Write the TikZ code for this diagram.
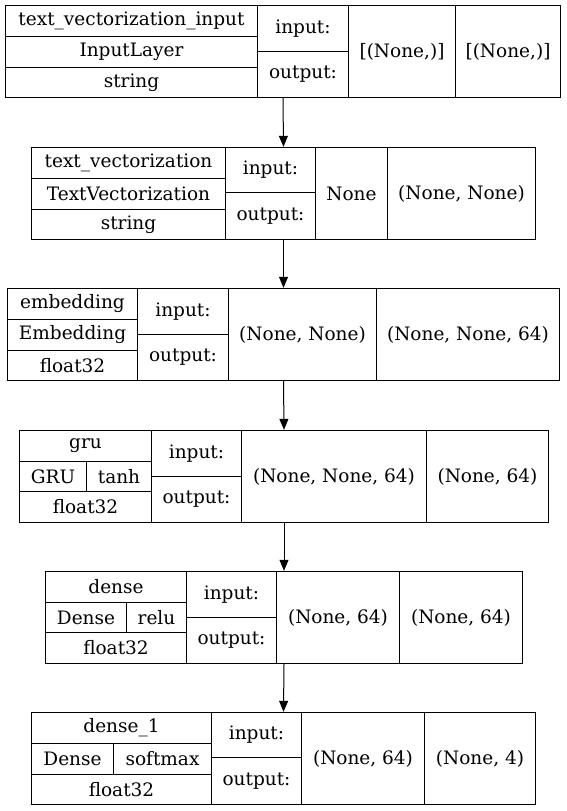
\documentclass[tikz,border=0pt]{standalone}
\usepackage{fontspec}
\setmainfont{DejaVu Serif}
\usetikzlibrary{arrows.meta}
\usetikzlibrary{fit}

\begin{document}
\begin{tikzpicture}[x=1pt,y=-1pt]
    \tikzstyle{rec}=[draw,line width=1pt,inner sep=0pt,anchor=north west,font=\fontsize{18.5}{21}\selectfont]
    \tikzstyle{blk}=[inner sep=0pt]
    \tikzstyle{e}=[-{Triangle[length=11pt,width=9pt]},line width=1pt]

    \useasboundingbox (0,0) rectangle (567,811);

    % text_vectorization_input
    \node[rec,minimum width=252pt,minimum height=31pt] (vi_name) at (5,5) {text\_vectorization\_input};
    \node[rec,minimum width=252pt,minimum height=31pt] (vi_class) at (5,36) {InputLayer};
    \node[rec,minimum width=252pt,minimum height=30pt] (vi_dtype) at (5,67) {string};
    \node[rec,minimum width=91pt,minimum height=46pt] (vi_in) at (257,5) {input:};
    \node[rec,minimum width=91pt,minimum height=46pt] (vi_out) at (257,51) {output:};
    \node[rec,minimum width=107pt,minimum height=92pt] (vi_inshape) at (348,5) {[(None,)]};
    \node[rec,minimum width=105pt,minimum height=92pt] (vi_outshape) at (455,5) {[(None,)]};
    \node[blk,fit=(vi_name)(vi_dtype)(vi_outshape)] (vecin) {};

    % text_vectorization
    \node[rec,minimum width=194pt,minimum height=31pt] (v_name) at (31,147) {text\_vectorization};
    \node[rec,minimum width=194pt,minimum height=31pt] (v_class) at (31,178) {TextVectorization};
    \node[rec,minimum width=194pt,minimum height=30pt] (v_dtype) at (31,209) {string};
    \node[rec,minimum width=90pt,minimum height=45pt] (v_in) at (225,147) {input:};
    \node[rec,minimum width=90pt,minimum height=47pt] (v_out) at (225,192) {output:};
    \node[rec,minimum width=72pt,minimum height=92pt] (v_inshape) at (315,147) {None};
    \node[rec,minimum width=148pt,minimum height=92pt] (v_outshape) at (387,147) {(None, None)};
    \node[blk,fit=(v_name)(v_dtype)(v_outshape)] (vec) {};

    \draw[e] (vecin.south) -- (vec.north);

    % embedding
    \node[rec,minimum width=130pt,minimum height=31pt] (em_name) at (7,288) {embedding};
    \node[rec,minimum width=130pt,minimum height=31pt] (em_class) at (7,319) {Embedding};
    \node[rec,minimum width=130pt,minimum height=30pt] (em_dtype) at (7,350) {float32};
    \node[rec,minimum width=91pt,minimum height=46pt] (em_in) at (137,288) {input:};
    \node[rec,minimum width=91pt,minimum height=46pt] (em_out) at (137,334) {output:};
    \node[rec,minimum width=148pt,minimum height=92pt] (em_inshape) at (228,288) {(None, None)};
    \node[rec,minimum width=183pt,minimum height=92pt] (em_outshape) at (376,288) {(None, None, 64)};
    \node[blk,fit=(em_name)(em_dtype)(em_outshape)] (emb) {};

    \draw[e] (vec.south) -- (emb.north);

    % gru
    \node[rec,minimum width=132pt,minimum height=31pt] (g_name) at (19,430) {gru};
    \node[rec,minimum width=67pt,minimum height=30pt] (g_class) at (19,461) {GRU};
    \node[rec,minimum width=65pt,minimum height=30pt] (g_act) at (86,461) {tanh};
    \node[rec,minimum width=132pt,minimum height=31pt] (g_dtype) at (19,491) {float32};
    \node[rec,minimum width=90pt,minimum height=46pt] (g_in) at (151,430) {input:};
    \node[rec,minimum width=90pt,minimum height=46pt] (g_out) at (151,476) {output:};
    \node[rec,minimum width=185pt,minimum height=92pt] (g_inshape) at (241,430) {(None, None, 64)};
    \node[rec,minimum width=122pt,minimum height=92pt] (g_outshape) at (426,430) {(None, 64)};
    \node[blk,fit=(g_name)(g_dtype)(g_outshape)] (gru) {};

    \draw[e] (emb.south) -- (gru.north);

    % dense
    \node[rec,minimum width=141pt,minimum height=31pt] (d_name) at (45,571) {dense};
    \node[rec,minimum width=81pt,minimum height=30pt] (d_class) at (45,602) {Dense};
    \node[rec,minimum width=60pt,minimum height=30pt] (d_act) at (126,602) {relu};
    \node[rec,minimum width=141pt,minimum height=31pt] (d_dtype) at (45,632) {float32};
    \node[rec,minimum width=90pt,minimum height=46pt] (d_in) at (186,571) {input:};
    \node[rec,minimum width=90pt,minimum height=46pt] (d_out) at (186,617) {output:};
    \node[rec,minimum width=123pt,minimum height=92pt] (d_inshape) at (276,571) {(None, 64)};
    \node[rec,minimum width=123pt,minimum height=92pt] (d_outshape) at (399,571) {(None, 64)};
    \node[blk,fit=(d_name)(d_dtype)(d_outshape)] (dense) {};

    \draw[e] (gru.south) -- (dense.north);

    % dense_1
    \node[rec,minimum width=180pt,minimum height=31pt] (o_name) at (31,712) {dense\_1};
    \node[rec,minimum width=82pt,minimum height=31pt] (o_class) at (31,743) {Dense};
    \node[rec,minimum width=98pt,minimum height=31pt] (o_act) at (113,743) {softmax};
    \node[rec,minimum width=180pt,minimum height=30pt] (o_dtype) at (31,774) {float32};
    \node[rec,minimum width=90pt,minimum height=45pt] (o_in) at (211,712) {input:};
    \node[rec,minimum width=90pt,minimum height=47pt] (o_out) at (211,757) {output:};
    \node[rec,minimum width=123pt,minimum height=92pt] (o_inshape) at (301,712) {(None, 64)};
    \node[rec,minimum width=111pt,minimum height=92pt] (o_outshape) at (424,712) {(None, 4)};
    \node[blk,fit=(o_name)(o_dtype)(o_outshape)] (dense1) {};

    \draw[e] (dense.south) -- (dense1.north);

\end{tikzpicture}
\end{document}
